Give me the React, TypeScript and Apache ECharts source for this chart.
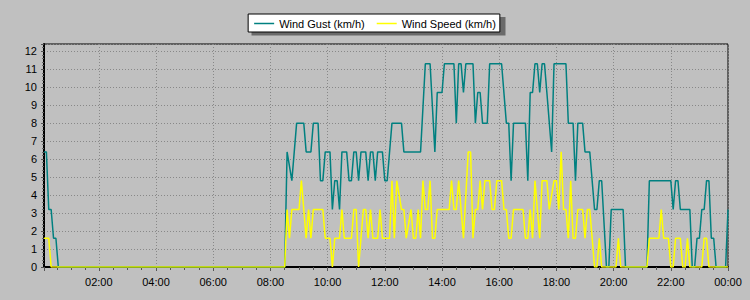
import React, { useEffect, useRef } from "react";
import * as echarts from "echarts";

const seriesNames = ["Wind Gust (km/h)", "Wind Speed (km/h)"];
const axisStart = "00:05";
const axisEnd = "24:00";
const yMax = 12.4;

const gust: [string, number][] = [
  ["00:05", 6.4], ["00:10", 6.4], ["00:15", 3.2], ["00:20", 3.2], ["00:25", 1.6], ["00:30", 1.6], ["00:35", 0],
  ["08:30", 0], ["08:35", 6.4], ["08:45", 4.8], ["08:55", 8.0], ["09:10", 8.0], ["09:15", 6.4], ["09:25", 6.4],
  ["09:30", 8.0], ["09:40", 8.0], ["09:45", 4.8], ["09:50", 4.8], ["09:55", 6.4], ["10:05", 6.4], ["10:10", 3.2],
  ["10:15", 4.8], ["10:20", 4.8], ["10:25", 3.2], ["10:30", 6.4], ["10:40", 6.4], ["10:45", 4.8], ["10:50", 4.8],
  ["10:55", 6.4], ["11:00", 6.4], ["11:05", 4.8], ["11:10", 6.4], ["11:20", 6.4], ["11:25", 4.8], ["11:30", 6.4],
  ["11:35", 6.4], ["11:40", 4.8], ["11:45", 6.4], ["11:55", 6.4], ["12:00", 4.8], ["12:05", 4.8], ["12:15", 8.0],
  ["12:35", 8.0], ["12:40", 6.4], ["13:15", 6.4], ["13:25", 11.3], ["13:35", 11.3], ["13:45", 6.4], ["13:50", 9.7],
  ["14:00", 9.7], ["14:05", 11.3], ["14:25", 11.3], ["14:30", 8.0], ["14:35", 11.3], ["14:40", 11.3], ["14:45", 9.7],
  ["14:50", 11.3], ["15:05", 11.3], ["15:10", 8.0], ["15:15", 9.7], ["15:20", 9.7], ["15:25", 8.0], ["15:35", 8.0],
  ["15:40", 11.3], ["16:05", 11.3], ["16:15", 8.0], ["16:20", 8.0], ["16:25", 4.8], ["16:30", 8.0], ["16:55", 8.0],
  ["17:00", 4.8], ["17:05", 9.7], ["17:10", 9.7], ["17:15", 11.3], ["17:20", 11.3], ["17:25", 9.7], ["17:30", 11.3],
  ["17:35", 11.3], ["17:40", 9.7], ["17:50", 6.4], ["17:55", 11.3], ["18:20", 11.3], ["18:25", 8.0], ["18:35", 8.0],
  ["18:40", 4.8], ["18:45", 8.0], ["18:55", 8.0], ["19:00", 6.4], ["19:10", 6.4], ["19:20", 3.2], ["19:25", 3.2],
  ["19:30", 4.8], ["19:35", 4.8], ["19:45", 0], ["19:50", 0], ["19:55", 3.2], ["20:20", 3.2], ["20:25", 0],
  ["21:10", 0], ["21:15", 4.8], ["22:00", 4.8], ["22:05", 3.2], ["22:10", 4.8], ["22:15", 4.8], ["22:20", 3.2],
  ["22:40", 3.2], ["22:45", 0], ["22:50", 0], ["22:55", 1.6], ["23:00", 1.6], ["23:05", 3.2], ["23:10", 3.2],
  ["23:15", 4.8], ["23:20", 4.8], ["23:25", 1.6], ["23:30", 1.6], ["23:35", 0], ["23:55", 0], ["24:00", 3.2],
];

const speed: [string, number][] = [
  ["00:05", 1.6], ["00:15", 1.6], ["00:20", 0],
  ["08:30", 0], ["08:35", 3.2], ["08:40", 1.6], ["08:45", 3.2], ["09:00", 3.2], ["09:05", 4.8], ["09:10", 3.2],
  ["09:15", 1.6], ["09:20", 3.2], ["09:25", 1.6], ["09:30", 3.2], ["09:50", 3.2], ["09:55", 1.6], ["10:05", 1.6],
  ["10:10", 0], ["10:15", 1.6], ["10:25", 1.6], ["10:30", 3.2], ["10:35", 1.6], ["10:50", 1.6], ["10:55", 3.2],
  ["11:00", 3.2], ["11:05", 0], ["11:15", 3.2], ["11:20", 3.2], ["11:25", 1.6], ["11:30", 3.2], ["11:35", 1.6],
  ["11:45", 1.6], ["11:50", 3.2], ["11:55", 1.6], ["12:10", 1.6], ["12:15", 4.8], ["12:20", 1.6], ["12:25", 4.8],
  ["12:35", 3.2], ["12:40", 3.2], ["12:45", 1.6], ["12:55", 3.2], ["13:00", 1.6], ["13:05", 1.6], ["13:10", 3.2],
  ["13:15", 1.6], ["13:20", 4.8], ["13:25", 3.2], ["13:30", 3.2], ["13:35", 4.8], ["13:40", 1.6], ["13:45", 1.6],
  ["13:50", 3.2], ["14:15", 3.2], ["14:20", 4.8], ["14:25", 3.2], ["14:30", 3.2], ["14:35", 4.8], ["14:45", 1.6],
  ["14:55", 6.4], ["15:00", 6.4], ["15:05", 1.6], ["15:10", 3.2], ["15:15", 3.2], ["15:20", 4.8], ["15:25", 3.2],
  ["15:30", 4.8], ["15:40", 4.8], ["15:45", 3.2], ["15:50", 3.2], ["15:55", 4.8], ["16:05", 4.8], ["16:10", 3.2],
  ["16:15", 3.2], ["16:20", 1.6], ["16:25", 1.6], ["16:30", 3.2], ["16:50", 3.2], ["16:55", 1.6], ["17:00", 1.6],
  ["17:05", 3.2], ["17:10", 1.6], ["17:15", 4.8], ["17:25", 1.6], ["17:30", 4.8], ["17:40", 4.8], ["17:45", 3.2],
  ["17:55", 4.8], ["18:00", 4.8], ["18:05", 3.2], ["18:10", 6.4], ["18:15", 3.2], ["18:20", 3.2], ["18:25", 1.6],
  ["18:30", 4.8], ["18:35", 1.6], ["18:40", 1.6], ["18:45", 3.2], ["18:55", 3.2], ["19:00", 1.6], ["19:05", 3.2],
  ["19:10", 3.2], ["19:20", 0], ["19:25", 0], ["19:30", 1.6], ["19:35", 0], ["20:05", 0], ["20:10", 1.6],
  ["20:15", 0], ["21:10", 0], ["21:15", 1.6], ["21:35", 1.6], ["21:40", 3.2], ["21:45", 1.6], ["21:55", 1.6],
  ["22:00", 0], ["22:05", 0], ["22:10", 1.6], ["22:20", 1.6], ["22:25", 0], ["22:30", 0], ["22:35", 1.6],
  ["22:40", 0], ["23:05", 0], ["23:10", 1.6], ["23:15", 1.6], ["23:20", 0], ["24:00", 0],
];

const toTs = (t: string) => {
  const [h, m] = t.split(":").map(Number);
  return Date.UTC(2024, 0, 1, h, m);
};

const FONT = "'Liberation Sans', Arial, sans-serif";
const TWO_AND_HALF_HOURS = 2.5 * 3600 * 1000;

export default function App() {
  const ref = useRef<HTMLDivElement>(null);
  useEffect(() => {
    const chart = echarts.init(ref.current!, null, { renderer: "svg" });
    chart.setOption({
      animation: false,
      useUTC: true,
      backgroundColor: "#c0c0c0",
      textStyle: { fontFamily: FONT },
      graphic: [
        {
          type: "rect",
          z: 1,
          silent: true,
          shape: { x: 251.5, y: 17, width: 254, height: 18.5 },
          style: { fill: "#6a6a6a" },
        },
      ],
      legend: {
        top: 14,
        left: "center",
        z: 10,
        padding: [3, 4, 2, 6],
        icon: "rect",
        itemWidth: 20,
        itemHeight: 1.5,
        itemGap: 12,
        backgroundColor: "#ffffff",
        borderColor: "#000",
        borderWidth: 1,
        textStyle: { fontSize: 11, color: "#000", fontFamily: FONT, lineHeight: 13 },
        data: seriesNames,
      },
      grid: {
        left: 44,
        right: 22,
        top: 44,
        bottom: 33,
        show: true,
        borderColor: "#000",
        borderWidth: 1,
      },
      xAxis: {
        type: "time",
        min: toTs(axisStart),
        max: toTs(axisEnd),
        minInterval: TWO_AND_HALF_HOURS,
        maxInterval: TWO_AND_HALF_HOURS,
        axisLine: { lineStyle: { color: "#000", width: 2 } },
        axisTick: { show: true, length: 4, lineStyle: { color: "#555" } },
        minorTick: { show: true, splitNumber: 4, length: 3, lineStyle: { color: "#555" } },
        splitLine: { show: true, lineStyle: { color: "#888", width: 1, type: [1, 2] } },
        axisLabel: {
          formatter: "{HH}:{mm}",
          color: "#000",
          fontSize: 11,
          fontFamily: FONT,
          margin: 9,
          showMinLabel: false,
          showMaxLabel: true,
          hideOverlap: false,
        },
      },
      yAxis: {
        type: "value",
        min: 0,
        max: yMax,
        interval: 1,
        axisLine: { show: true, lineStyle: { color: "#000", width: 2 } },
        axisTick: { show: true, length: 3, lineStyle: { color: "#555" } },
        minorTick: { show: true, splitNumber: 5, length: 2, lineStyle: { color: "#666" } },
        splitLine: { show: true, lineStyle: { color: "#888", width: 1, type: [1, 2] } },
        axisLabel: {
          color: "#000",
          fontSize: 11,
          fontFamily: FONT,
          margin: 7,
          showMaxLabel: false,
        },
      },
      series: [
        {
          name: seriesNames[0],
          type: "line",
          symbol: "none",
          data: gust.map(([t, v]) => [toTs(t), v]),
          lineStyle: { color: "#008080", width: 1.5 },
          itemStyle: { color: "#008080" },
          z: 2,
        },
        {
          name: seriesNames[1],
          type: "line",
          symbol: "none",
          data: speed.map(([t, v]) => [toTs(t), v]),
          lineStyle: { color: "#ffff00", width: 1.5 },
          itemStyle: { color: "#ffff00" },
          z: 3,
        },
      ],
    });
    return () => chart.dispose();
  }, []);
  return (
    <div
      ref={ref}
      style={{ position: "fixed", left: 0, top: 0, width: 750, height: 300 }}
    />
  );
}
